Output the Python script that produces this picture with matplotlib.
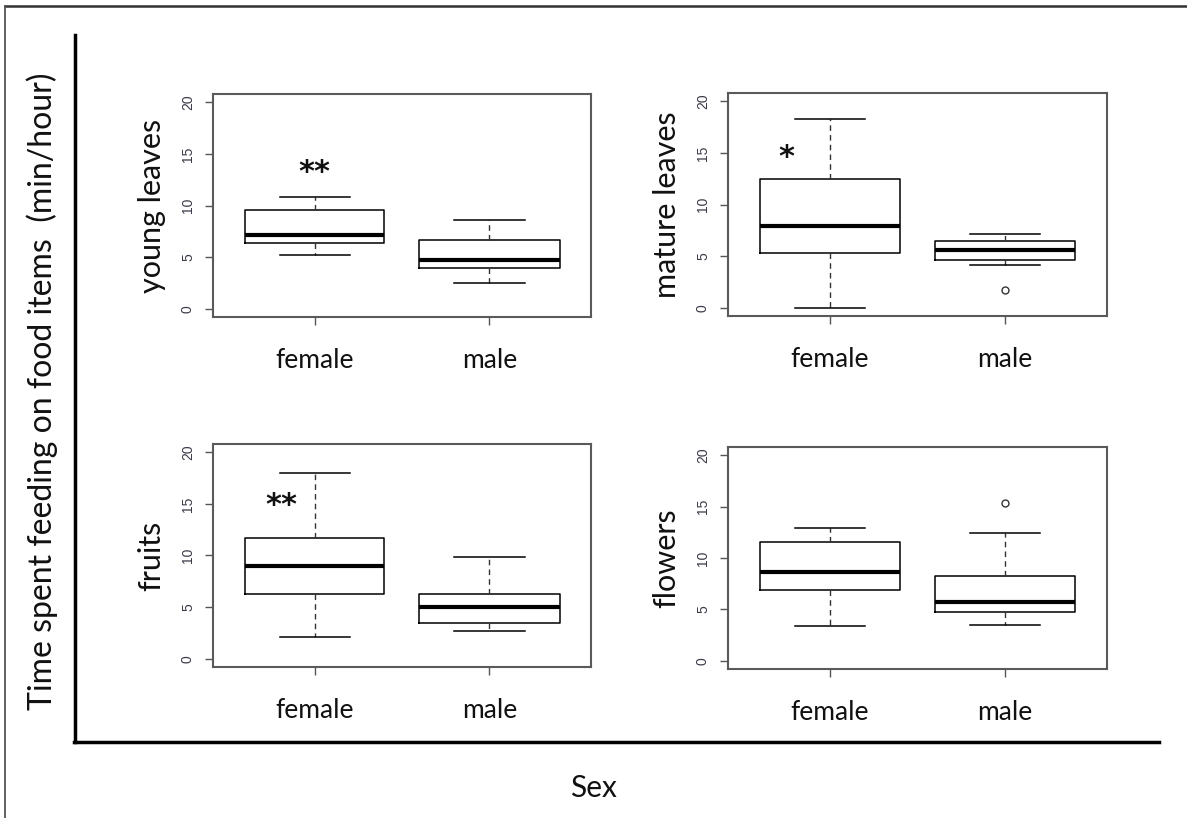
import matplotlib
matplotlib.use("Agg")
import matplotlib.pyplot as plt
from matplotlib.lines import Line2D

# Five-number summaries (whisker low, Q1, median, Q3, whisker high) and outliers
groups = ["female", "male"]
panel_names = ["young leaves", "mature leaves", "fruits", "flowers"]

young_female = [5.24, 6.35, 7.15, 9.58, 10.87]
young_male = [2.49, 3.98, 4.70, 6.70, 8.64]
mature_female = [0.0, 5.32, 7.89, 12.47, 18.28]
mature_male = [4.15, 4.67, 5.55, 6.46, 7.11]
fruits_female = [2.14, 6.31, 8.97, 11.69, 17.96]
fruits_male = [2.69, 3.50, 5.02, 6.31, 9.90]
flowers_female = [3.36, 6.88, 8.67, 11.53, 12.94]
flowers_male = [3.46, 4.76, 5.74, 8.28, 12.41]

outliers = {
    "young leaves": [[], []],
    "mature leaves": [[], [1.69]],
    "fruits": [[], []],
    "flowers": [[], [15.31]],
}

# Significance marks: (text, x position, y position of the text box centre)
signif = {
    "young leaves": ("**", 1.0, 13.15),
    "mature leaves": ("*", 0.755, 14.6),
    "fruits": ("**", 0.81, 14.8),
    "flowers": None,
}

summaries = {
    "young leaves": [young_female, young_male],
    "mature leaves": [mature_female, mature_male],
    "fruits": [fruits_female, fruits_male],
    "flowers": [flowers_female, flowers_male],
}

W, H = 1187, 818
fig = plt.figure(figsize=(W / 100, H / 100), dpi=100)
fig.patch.set_facecolor("white")

TXT_FONT = ["Lato", "DejaVu Sans"]
TICK_FONT = ["Liberation Sans", "DejaVu Sans"]


def frac_box(x0, y0, x1, y1):
    return [x0 / W, 1 - y1 / H, (x1 - x0) / W, (y1 - y0) / H]


boxes_px = {
    "young leaves": (213, 94, 591, 317),
    "mature leaves": (728, 93, 1107, 316),
    "fruits": (213, 444, 591, 667),
    "flowers": (728, 447, 1107, 669),
}

for name in panel_names:
    ax = fig.add_axes(frac_box(*boxes_px[name]))
    stats = []
    for g, s, fl in zip(groups, summaries[name], outliers[name]):
        stats.append(dict(label=g, whislo=s[0], q1=s[1], med=s[2],
                          q3=s[3], whishi=s[4], fliers=fl))
    ax.bxp(stats, positions=[1, 2], widths=0.8, patch_artist=False,
           boxprops=dict(color="black", linewidth=1.1),
           medianprops=dict(color="black", linewidth=3.0),
           whiskerprops=dict(color="#333333", linewidth=1.0, linestyle=(0, (4, 3))),
           capprops=dict(color="black", linewidth=1.1),
           capwidths=0.4,
           flierprops=dict(marker="o", markersize=5, markerfacecolor="none",
                           markeredgecolor="#333333", markeredgewidth=1.0))
    ax.set_xlim(0.42, 2.58)
    ax.set_ylim(-0.8, 20.8)
    ax.set_yticks([0, 5, 10, 15, 20])
    ax.set_yticklabels(["0", "5", "10", "15", "20"], rotation=90, va="center",
                       fontsize=10, color="#3a3a48", family=TICK_FONT)
    ax.set_xticks([1, 2])
    ax.set_xticklabels(groups, fontsize=19, family=TXT_FONT, color="#111111")
    ax.tick_params(axis="y", length=6, width=1.0, color="#555555", pad=7)
    ax.tick_params(axis="x", length=6, width=1.0, color="#555555", pad=16)
    for sp in ax.spines.values():
        sp.set_color("#5a5a5a")
        sp.set_linewidth(1.5)
    ax.set_ylabel(name, fontsize=22, family=TXT_FONT, color="#111111", labelpad=11)
    mark = signif[name]
    if mark is not None:
        ax.text(mark[1], mark[2], mark[0], ha="center", va="center",
                fontsize=22, fontweight="bold", family=["DejaVu Sans"],
                color="#111111")

# Shared axis lines and labels
fig.add_artist(Line2D([75 / W, 75 / W], [1 - 35 / H, 1 - 742 / H],
                      color="black", linewidth=2.5, transform=fig.transFigure))
fig.add_artist(Line2D([74 / W, 1159 / W], [1 - 742 / H, 1 - 742 / H],
                      color="black", linewidth=2.5, transform=fig.transFigure))
fig.text(42 / W, 1 - 391 / H, "Time spent feeding on food items  (min/hour)",
         rotation=90, ha="center", va="center", fontsize=23,
         family=TXT_FONT, color="#111111")
fig.text(593 / W, 1 - 788 / H, "Sex", ha="center", va="center", fontsize=21.5,
         family=TXT_FONT, color="#111111")

# Outer frame (top and left edges)
fig.add_artist(Line2D([5 / W, 1.0], [1 - 6 / H, 1 - 6 / H],
                      color="#333333", linewidth=1.8, transform=fig.transFigure))
fig.add_artist(Line2D([5 / W, 5 / W], [1 - 6 / H, 0.0],
                      color="#555555", linewidth=1.3, transform=fig.transFigure))

fig.savefig("out.png", dpi=100)
